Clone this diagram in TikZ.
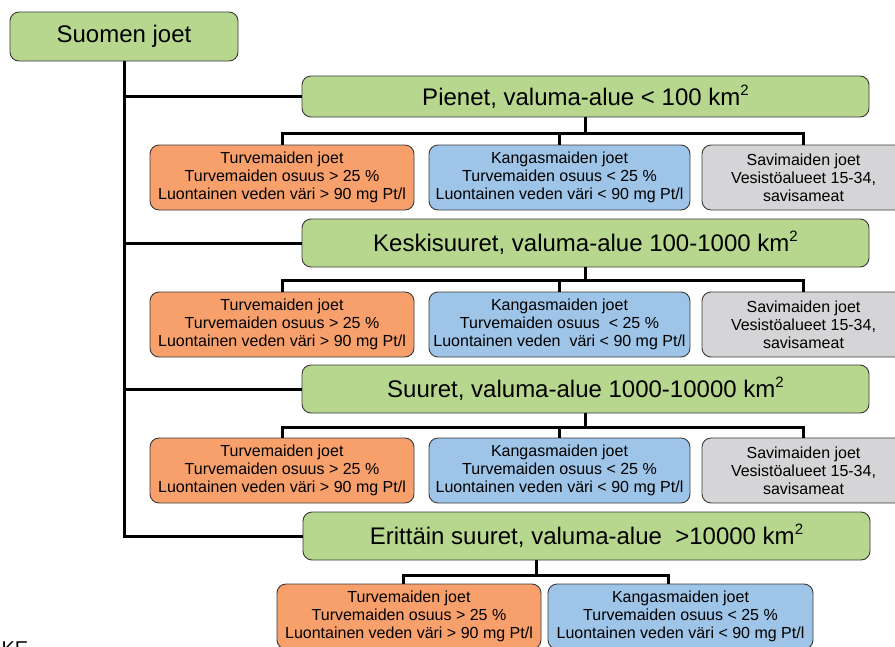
\documentclass[tikz,border=0pt]{standalone}
\usepackage{fontspec}
\setmainfont{Liberation Sans}
\usepackage{tikz}
\usetikzlibrary{positioning}
\definecolor{sizegreen}{HTML}{B6D78D}
\definecolor{peatorange}{HTML}{F8A06C}
\definecolor{heathblue}{HTML}{9EC4E7}
\definecolor{claygrey}{HTML}{D5D5D7}
\definecolor{boxline}{HTML}{3A3A3A}
\newcommand{\kmsq}{km\raisebox{0.42em}{\fontsize{15}{15}\selectfont 2}}

\begin{document}
\begin{tikzpicture}[x=1pt, y=-1pt,
    box/.style={draw=boxline, line width=0.9pt, rounded corners=9pt, align=center, inner sep=2pt},
    sizebox/.style={box, fill=sizegreen, minimum width=567pt, minimum height=48pt, font=\fontsize{24}{28}\selectfont},
    soilbox/.style={box, minimum height=65pt, font=\fontsize{16}{18}\selectfont},
    link/.style={line width=3pt}
]
    \useasboundingbox (0,0) rectangle (895,646);

    % Root
    \node[box, fill=sizegreen, minimum width=228pt, minimum height=49pt, font=\fontsize{24}{28}\selectfont] (root) at (124, 36.5) {Suomen joet};

    % Size classes
    \node[sizebox, minimum height=41pt] (pienet) at (585.5, 96.5) {Pienet, valuma-alue < 100 \kmsq};
    \node[sizebox] (keski) at (585.5, 243) {Keskisuuret, valuma-alue 100-1000 \kmsq};
    \node[sizebox] (suuret) at (585.5, 389) {Suuret, valuma-alue 1000-10000 \kmsq};
    \node[sizebox] (erittain) at (586.5, 536) {Erittäin suuret, valuma-alue\ \ >10000 \kmsq};

    % Small rivers
    \node[soilbox, fill=peatorange, minimum width=264pt] (turve1) at (282, 177.5) {Turvemaiden joet\\Turvemaiden osuus > 25 \%\\Luontainen veden väri > 90 mg Pt/l};
    \node[soilbox, fill=heathblue, minimum width=261pt] (kangas1) at (559.5, 177.5) {Kangasmaiden joet\\Turvemaiden osuus < 25 \%\\Luontainen veden väri < 90 mg Pt/l};
    \node[soilbox, fill=claygrey, minimum width=203pt] (savi1) at (803.5, 177.5) {Savimaiden joet\\Vesistöalueet 15-34,\\savisameat};

    % Medium rivers
    \node[soilbox, fill=peatorange, minimum width=264pt] (turve2) at (282, 324.5) {Turvemaiden joet\\Turvemaiden osuus > 25 \%\\Luontainen veden väri > 90 mg Pt/l};
    \node[soilbox, fill=heathblue, minimum width=261pt] (kangas2) at (559.5, 324.5) {Kangasmaiden joet\\Turvemaiden osuus\ \ < 25 \%\\Luontainen veden\ \ väri < 90 mg Pt/l};
    \node[soilbox, fill=claygrey, minimum width=203pt] (savi2) at (803.5, 324.5) {Savimaiden joet\\Vesistöalueet 15-34,\\savisameat};

    % Large rivers
    \node[soilbox, fill=peatorange, minimum width=264pt] (turve3) at (282, 470.5) {Turvemaiden joet\\Turvemaiden osuus > 25 \%\\Luontainen veden väri > 90 mg Pt/l};
    \node[soilbox, fill=heathblue, minimum width=261pt] (kangas3) at (559.5, 470.5) {Kangasmaiden joet\\Turvemaiden osuus < 25 \%\\Luontainen veden väri < 90 mg Pt/l};
    \node[soilbox, fill=claygrey, minimum width=203pt] (savi3) at (803.5, 470.5) {Savimaiden joet\\Vesistöalueet 15-34,\\savisameat};

    % Very large rivers
    \node[soilbox, fill=peatorange, minimum width=264pt] (turve4) at (409, 616.5) {Turvemaiden joet\\Turvemaiden osuus > 25 \%\\Luontainen veden väri > 90 mg Pt/l};
    \node[soilbox, fill=heathblue, minimum width=265pt] (kangas4) at (680.5, 616.5) {Kangasmaiden joet\\Turvemaiden osuus < 25 \%\\Luontainen veden väri < 90 mg Pt/l};

    \node[font=\fontsize{20}{24}\selectfont, anchor=base west] (ke) at (-2, 655) {KE};

    % Trunk
    \draw[link] (root.south) |- (erittain.west);
    \draw[link] (root.south |- pienet.west) -- (pienet.west);
    \draw[link] (root.south |- keski.west) -- (keski.west);
    \draw[link] (root.south |- suuret.west) -- (suuret.west);

    % Branches
    \draw[link] (pienet.south) -- ++(0,16) -| (turve1.north);
    \draw[link] (pienet.south) -- ++(0,16) -| (kangas1.north);
    \draw[link] (pienet.south) -- ++(0,16) -| (savi1.north);
    \draw[link] (keski.south) -- ++(0,13) -| (turve2.north);
    \draw[link] (keski.south) -- ++(0,13) -| (kangas2.north);
    \draw[link] (keski.south) -- ++(0,13) -| (savi2.north);
    \draw[link] (suuret.south) -- ++(0,14) -| (turve3.north);
    \draw[link] (suuret.south) -- ++(0,14) -| (kangas3.north);
    \draw[link] (suuret.south) -- ++(0,14) -| (savi3.north);
    \draw[link] ([xshift=-50.5pt]erittain.south) -- ++(0,15) -| ([xshift=-6pt]turve4.north);
    \draw[link] ([xshift=-50.5pt]erittain.south) -- ++(0,15) -| ([xshift=-12.5pt]kangas4.north);
\end{tikzpicture}
\end{document}
